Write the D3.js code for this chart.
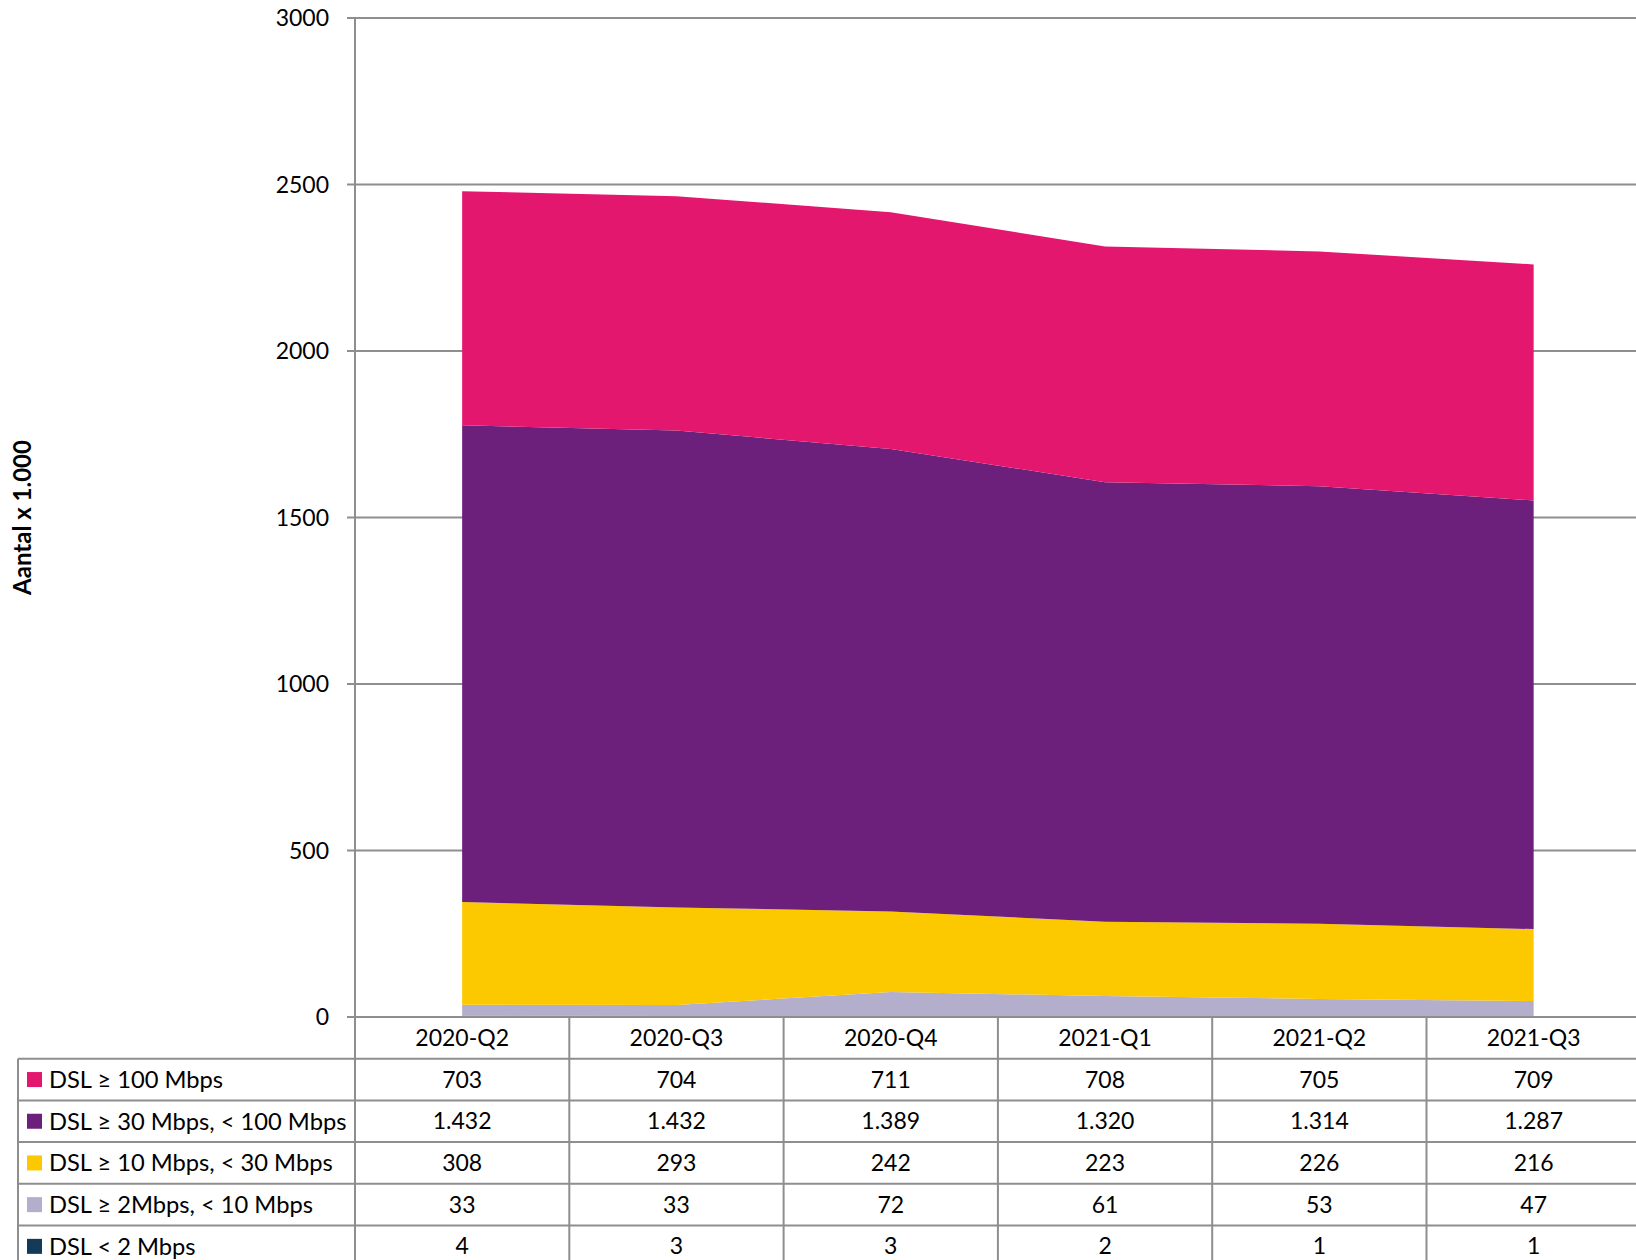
<!DOCTYPE html>
<html>
<head>
<meta charset="utf-8">
<script src="https://cdn.jsdelivr.net/npm/d3@7"></script>
<style>
  html, body { margin: 0; padding: 0; background: #fff; }
  svg { display: block; }
</style>
</head>
<body>
<svg id="chart" width="1636" height="1260"></svg>
<script>
// quarters on the x axis
const categories = ["2020-Q2", "2020-Q3", "2020-Q4", "2021-Q1", "2021-Q2", "2021-Q3"];

// series values (x 1.000), bottom of the stack first
const dslLt2 = [4, 3, 3, 2, 1, 1];
const dsl2to10 = [33, 33, 72, 61, 53, 47];
const dsl10to30 = [308, 293, 242, 223, 226, 216];
const dsl30to100 = [1432, 1432, 1389, 1320, 1314, 1287];
const dsl100 = [703, 704, 711, 708, 705, 709];

const seriesNames = [
  "DSL < 2 Mbps",
  "DSL \u2265 2Mbps, < 10 Mbps",
  "DSL \u2265 10 Mbps, < 30 Mbps",
  "DSL \u2265 30 Mbps, < 100 Mbps",
  "DSL \u2265 100 Mbps"
];
const seriesValues = [dslLt2, dsl2to10, dsl10to30, dsl30to100, dsl100];
const seriesColors = ["#143a5a", "#b3aecb", "#fcc900", "#6d1f7c", "#e4176f"];

const yTicks = [0, 500, 1000, 1500, 2000, 2500, 3000];
const yTitle = "Aantal x 1.000";

const svg = d3.select("#chart");
const font = "Lato, 'Open Sans', sans-serif";
const gridColor = "#8e8e8e";

// plot area
const plotLeft = 355, colW = 214.3;
const plotTop = 18, plotBottom = 1017;
const rowH = 41.7;
const tableLeft = 18;
const plotRight = plotLeft + colW * categories.length;

const x = d3.scaleBand().domain(categories).range([plotLeft, plotRight]).padding(0);
const y = d3.scaleLinear().domain([0, 3000]).range([plotBottom, plotTop]);

// rows for stacking: one object per quarter
const rows = categories.map((c, i) => {
  const r = { cat: c };
  seriesNames.forEach((n, s) => r[n] = seriesValues[s][i]);
  return r;
});
const stacked = d3.stack().keys(seriesNames)(rows);

// horizontal gridlines with small ticks left of the axis
svg.append("g")
  .selectAll("line")
  .data(yTicks)
  .join("line")
  .attr("x1", plotLeft - 8)
  .attr("x2", 1636)
  .attr("y1", d => y(d))
  .attr("y2", d => y(d))
  .attr("stroke", gridColor)
  .attr("stroke-width", 2);

// stacked areas
const area = d3.area()
  .x((d, i) => x(categories[i]) + x.bandwidth() / 2)
  .y0(d => y(d[0]))
  .y1(d => y(d[1]));

svg.append("g")
  .selectAll("path")
  .data(stacked)
  .join("path")
  .attr("fill", (d, i) => seriesColors[i])
  .attr("d", area);

// redraw the zero line over the areas
svg.append("line")
  .attr("x1", plotLeft - 8).attr("x2", 1636)
  .attr("y1", y(0)).attr("y2", y(0))
  .attr("stroke", gridColor).attr("stroke-width", 2);

// y axis line
svg.append("line")
  .attr("x1", plotLeft).attr("x2", plotLeft)
  .attr("y1", plotTop).attr("y2", 1260)
  .attr("stroke", gridColor).attr("stroke-width", 2);

// y tick labels
svg.append("g")
  .selectAll("text")
  .data(yTicks)
  .join("text")
  .attr("x", plotLeft - 26)
  .attr("y", d => y(d))
  .attr("dy", "0.35em")
  .attr("text-anchor", "end")
  .attr("font-family", font)
  .attr("font-size", 23)
  .attr("fill", "#000")
  .text(d => d);

// y axis title
const titleY = (plotTop + plotBottom) / 2;
svg.append("text")
  .attr("transform", `translate(31,${titleY}) rotate(-90)`)
  .attr("text-anchor", "middle")
  .attr("font-family", font)
  .attr("font-size", 24)
  .attr("font-weight", 700)
  .attr("fill", "#000")
  .text(yTitle);

// ---- data table under the chart ----
const table = svg.append("g");
const tableRows = seriesNames.slice().reverse();
const tableVals = seriesValues.slice().reverse();
const tableCols = seriesColors.slice().reverse();
const fmt = d3.formatLocale({ decimal: ",", thousands: ".", grouping: [3], currency: ["", ""] }).format(",d");

// category labels in the header row
table.selectAll("text.cat")
  .data(categories)
  .join("text")
  .attr("class", "cat")
  .attr("x", d => x(d) + x.bandwidth() / 2)
  .attr("y", plotBottom + rowH / 2)
  .attr("dy", "0.35em")
  .attr("text-anchor", "middle")
  .attr("font-family", font)
  .attr("font-size", 23)
  .text(d => d);

// horizontal table lines
const rowLines = d3.range(tableRows.length + 1).map(i => plotBottom + rowH * (i + 1));
table.selectAll("line.row")
  .data(rowLines)
  .join("line")
  .attr("class", "row")
  .attr("x1", tableLeft).attr("x2", 1636)
  .attr("y1", d => d).attr("y2", d => d)
  .attr("stroke", gridColor).attr("stroke-width", 2);

// vertical table lines
table.selectAll("line.col")
  .data(categories.slice(1))
  .join("line")
  .attr("class", "col")
  .attr("x1", d => x(d)).attr("x2", d => x(d))
  .attr("y1", plotBottom).attr("y2", 1260)
  .attr("stroke", gridColor).attr("stroke-width", 2);

table.append("line")
  .attr("x1", tableLeft).attr("x2", tableLeft)
  .attr("y1", plotBottom + rowH).attr("y2", 1260)
  .attr("stroke", gridColor).attr("stroke-width", 2);

// one group per series row: swatch, name, values
const rowG = table.selectAll("g.srow")
  .data(tableRows)
  .join("g")
  .attr("class", "srow")
  .attr("transform", (d, i) => `translate(0,${plotBottom + rowH * (i + 1)})`);

rowG.append("rect")
  .attr("x", 27).attr("y", rowH / 2 - 7.5)
  .attr("width", 15).attr("height", 15)
  .attr("fill", (d, i) => tableCols[i]);

rowG.append("text")
  .attr("x", 49).attr("y", rowH / 2)
  .attr("dy", "0.35em")
  .attr("font-family", font)
  .attr("font-size", 23.7)
  .text(d => d);

rowG.each(function (d, i) {
  d3.select(this).selectAll("text.val")
    .data(tableVals[i])
    .join("text")
    .attr("class", "val")
    .attr("x", (v, j) => x(categories[j]) + x.bandwidth() / 2)
    .attr("y", rowH / 2)
    .attr("dy", "0.35em")
    .attr("text-anchor", "middle")
    .attr("font-family", font)
    .attr("font-size", 23)
    .text(v => fmt(v));
});
</script>
</body>
</html>
